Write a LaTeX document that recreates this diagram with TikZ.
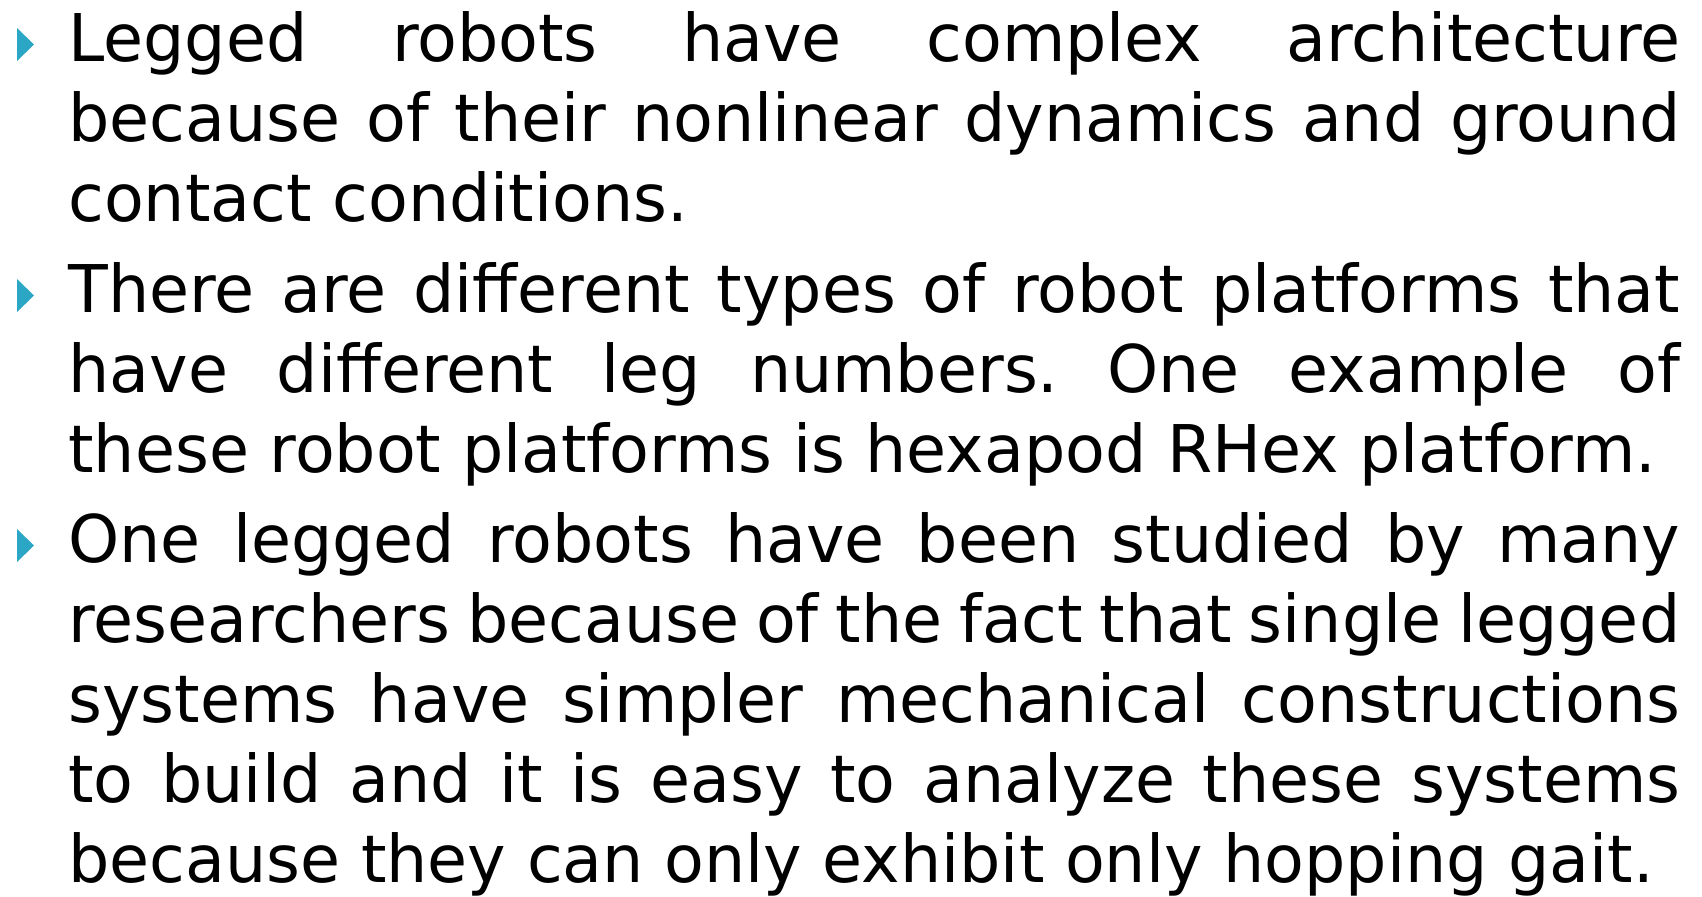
\documentclass[tikz,border=0pt]{standalone}
\usepackage{fontspec}
\setmainfont{DejaVu Sans}
\usepackage{graphicx}
\definecolor{bulletteal}{RGB}{43,166,196}
\newlength\natw
\newcommand\bodysize{\fontsize{32.9pt}{40pt}\selectfont\frenchspacing}
\newcommand\jline[1]{\scalebox{\hratio}[1]{\makebox[\jw][s]{#1}}}
\newcommand\nline[1]{\scalebox{\hratio}[1]{#1}}
\tikzset{
  textline/.style={anchor=base west, inner sep=0pt, font=\bodysize, text=black},
  bulletmark/.style={fill=bulletteal}
}
\begin{document}
\frenchspacing
\settowidth\natw{\bodysize these robot platforms is hexapod RHex platform.}%
\pgfmathsetmacro\hratio{794/\natw}%
\pgfmathsetlengthmacro\jw{806pt/\hratio}%
\begin{tikzpicture}[x=0.5pt,y=-0.5pt]
\fill[white] (0,0) rectangle (1702,896);
\useasboundingbox (0,0) rectangle (1702,896);
% bullets
\fill[bulletmark] (17,28) -- (17,61) -- (34,44.5) -- cycle;
\fill[bulletmark] (17,279) -- (17,312) -- (34,295.5) -- cycle;
\fill[bulletmark] (17,529) -- (17,562) -- (34,545.5) -- cycle;
% lines
\node[textline] (l1) at (68,61) {\jline{Legged robots have complex architecture}};
\node[textline] (l2) at (68,141) {\jline{because of their nonlinear dynamics and ground}};
\node[textline] (l3) at (68,221) {\nline{contact conditions.}};
\node[textline] (l4) at (68,312) {\jline{There are different types of robot platforms that}};
\node[textline] (l5) at (68,392) {\jline{have different leg numbers. One example of}};
\node[textline] (l6) at (68,472) {\nline{these robot platforms is hexapod RHex platform.}};
\node[textline] (l7) at (68,562) {\jline{One legged robots have been studied by many}};
\node[textline] (l8) at (68,642) {\jline{researchers because of the fact that single legged}};
\node[textline] (l9) at (68,722) {\jline{systems have simpler mechanical constructions}};
\node[textline] (l10) at (68,802) {\jline{to build and it is easy to analyze these systems}};
\node[textline] (l11) at (68,882) {\nline{because they can only exhibit only hopping gait.}};
\end{tikzpicture}
\end{document}
